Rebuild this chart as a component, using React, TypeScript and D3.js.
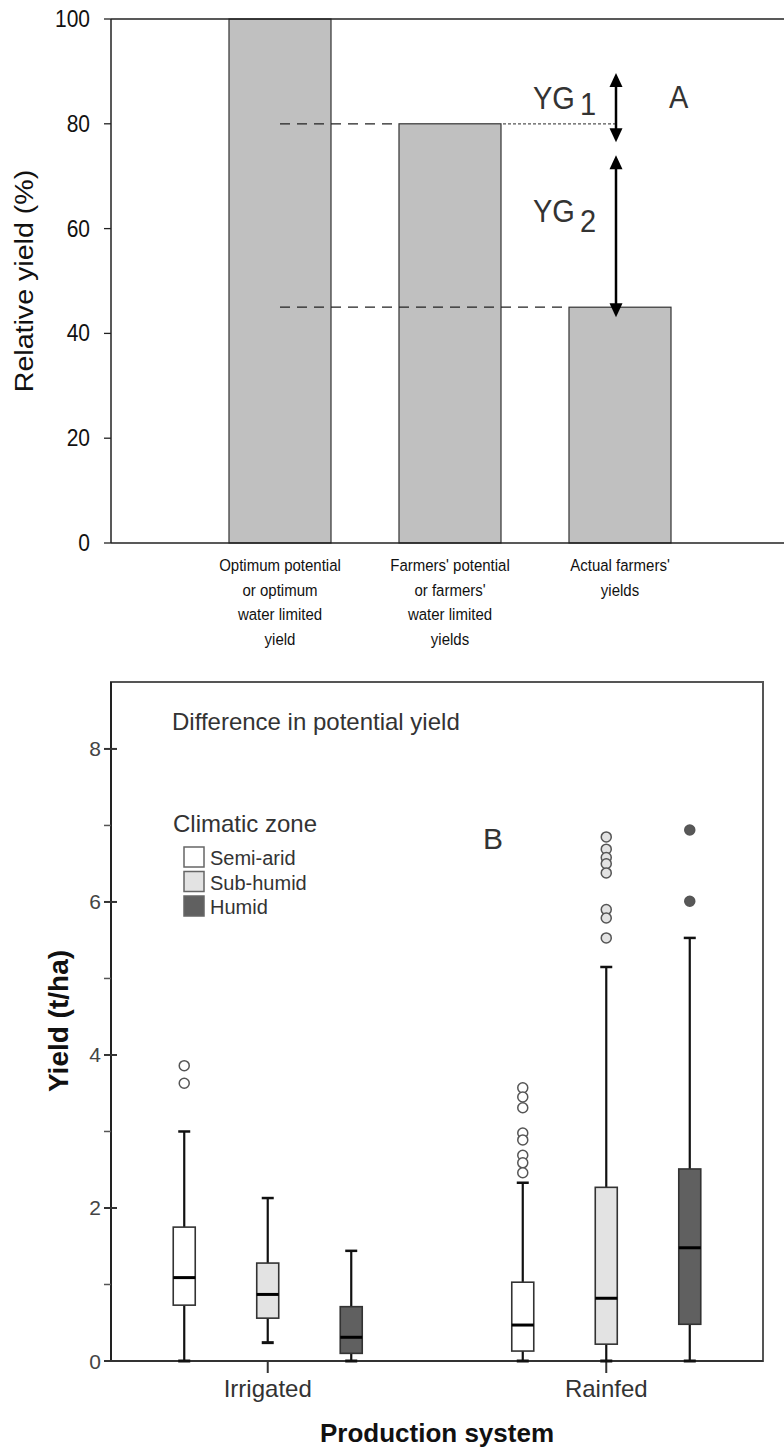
import React from "react";
import * as d3 from "d3";

// ---------- Panel A data ----------
const barCategories = ["optimum", "farmers", "actual"];
const barLabels = [
  ["Optimum potential", "or optimum", "water limited", "yield"],
  ["Farmers' potential", "or farmers'", "water limited", "yields"],
  ["Actual farmers'", "yields"],
];
const barValues = [100, 80, 45];
const yTicksA = [0, 20, 40, 60, 80, 100];
// gap arrows (from, to) in relative yield units
const yg1Arrow = [89.7, 76.5];
const yg2Arrow = [74, 43.1];

// ---------- Panel B data ----------
const groups = ["Irrigated", "Rainfed"];
const zones = ["Semi-arid", "Sub-humid", "Humid"];
const zoneFills = ["#ffffff", "#e3e3e3", "#606060"];
const outlierFills = ["#ffffff", "#e3e3e3", "#585858"];

const irrigatedLow = [0, 0.24, 0];
const irrigatedQ1 = [0.73, 0.56, 0.1];
const irrigatedMedian = [1.09, 0.87, 0.31];
const irrigatedQ3 = [1.75, 1.28, 0.71];
const irrigatedHigh = [3.0, 2.13, 1.44];
const irrigatedOutliers = [[3.86, 3.63], [], []];

const rainfedLow = [0, 0, 0];
const rainfedQ1 = [0.13, 0.22, 0.48];
const rainfedMedian = [0.47, 0.82, 1.48];
const rainfedQ3 = [1.03, 2.27, 2.51];
const rainfedHigh = [2.33, 5.15, 5.53];
const rainfedOutliers = [
  [3.57, 3.45, 3.31, 2.98, 2.89, 2.69, 2.59, 2.46],
  [6.85, 6.69, 6.58, 6.5, 6.38, 5.9, 5.79, 5.53],
  [6.94, 6.01],
];

const yTicksB = [0, 1, 2, 3, 4, 5, 6, 7, 8];

const FONT = "'Liberation Sans', Arial, Helvetica, sans-serif";

type TProps = {
  x: number;
  y: number;
  sy?: number;
  children?: React.ReactNode;
  [k: string]: any;
};
const T = ({ x, y, sy = 1, children, ...rest }: TProps) => (
  <text transform={`translate(${x},${y}) scale(1,${sy})`} {...rest}>
    {children}
  </text>
);

export default function App() {
  // ----- Panel A scales -----
  const xA = d3
    .scaleBand<string>()
    .domain(barCategories)
    .range([195, 705])
    .paddingInner(0.4)
    .paddingOuter(0.2);
  const yA = d3.scaleLinear().domain([0, 100]).range([543, 19]);
  const axLeftA = 111;
  const axRightA = 784;
  const bw = xA.bandwidth();
  const center = (c: string) => (xA(c) as number) + bw / 2;
  const arrowX = center("actual") - 4;
  const SY = 1.14;

  // ----- Panel B scales -----
  const yB = d3.scaleLinear().domain([0, 8.875]).range([1361, 682]);
  const xG = d3.scalePoint<string>().domain(groups).range([111, 763]).padding(0.463);
  const xZ = d3.scalePoint<string>().domain(zones).range([-83.5, 83.5]);
  const boxW = 22;
  const capW = 12;

  const groupStats = [
    { low: irrigatedLow, q1: irrigatedQ1, med: irrigatedMedian, q3: irrigatedQ3, high: irrigatedHigh, out: irrigatedOutliers },
    { low: rainfedLow, q1: rainfedQ1, med: rainfedMedian, q3: rainfedQ3, high: rainfedHigh, out: rainfedOutliers },
  ];

  const arrowHead = (x: number, y: number, dir: 1 | -1, key: string) => {
    // dir 1 = pointing down, -1 = pointing up; (x,y) is the tip
    const h = 14;
    const w = 6.5;
    return (
      <path
        key={key}
        d={`M${x},${y} L${x - w},${y - dir * h} L${x + w},${y - dir * h} Z`}
        fill="#000"
      />
    );
  };

  const doubleArrow = (from: number, to: number, key: string) => {
    const yTop = yA(from);
    const yBot = yA(to);
    return (
      <g key={key}>
        <line x1={arrowX} x2={arrowX} y1={yTop + 10} y2={yBot - 10} stroke="#000" strokeWidth={2.5} />
        {arrowHead(arrowX, yTop, -1, key + "t")}
        {arrowHead(arrowX, yBot, 1, key + "b")}
      </g>
    );
  };

  return (
    <svg
      width={784}
      height={1450}
      style={{ position: "absolute", left: 0, top: 0, background: "#fff" }}
      fontFamily={FONT}
    >
      {/* ================= Panel A ================= */}
      <g>
        {/* bars */}
        {barCategories.map((c, i) => (
          <rect
            key={c}
            x={xA(c)}
            y={yA(barValues[i])}
            width={bw}
            height={yA(0) - yA(barValues[i])}
            fill="#c0c0c0"
            stroke="#333"
            strokeWidth={1.2}
          />
        ))}
        {/* frame lines */}
        <line x1={axLeftA} x2={axRightA} y1={yA(100)} y2={yA(100)} stroke="#222" strokeWidth={1.5} />
        <line x1={axLeftA} x2={axRightA} y1={yA(0)} y2={yA(0)} stroke="#222" strokeWidth={1.5} />
        <line x1={axLeftA} x2={axLeftA} y1={yA(0)} y2={yA(100)} stroke="#222" strokeWidth={1.5} />
        {/* ticks */}
        {yTicksA.map((t) => (
          <g key={t}>
            <line x1={axLeftA - 7} x2={axLeftA} y1={yA(t)} y2={yA(t)} stroke="#222" strokeWidth={1.3} />
            <T x={90} y={yA(t) + 8} sy={SY} fontSize={21} textAnchor="end" fill="#111">
              {t}
            </T>
          </g>
        ))}
        {/* y label */}
        <text
          transform={`translate(33,281) rotate(-90) scale(1.1,1)`}
          fontSize={26}
          textAnchor="middle"
          fill="#111"
        >
          Relative yield (%)
        </text>
        {/* dashed reference lines */}
        <line
          x1={center("optimum")}
          x2={xA("farmers") as number}
          y1={yA(barValues[1])}
          y2={yA(barValues[1])}
          stroke="#222"
          strokeWidth={1.3}
          strokeDasharray="10,7"
        />
        <line
          x1={(xA("farmers") as number) + bw + 2}
          x2={arrowX}
          y1={yA(barValues[1])}
          y2={yA(barValues[1])}
          stroke="#555"
          strokeWidth={1.3}
          strokeDasharray="3,2"
        />
        <line
          x1={center("optimum")}
          x2={xA("actual") as number}
          y1={yA(barValues[2])}
          y2={yA(barValues[2])}
          stroke="#222"
          strokeWidth={1.3}
          strokeDasharray="10,7"
        />
        {/* arrows */}
        {doubleArrow(yg1Arrow[0], yg1Arrow[1], "yg1")}
        {doubleArrow(yg2Arrow[0], yg2Arrow[1], "yg2")}
        {/* YG labels */}
        <T x={533} y={109} sy={1.05} fontSize={29} fill="#333">
          YG
        </T>
        <T x={580} y={115} sy={1.05} fontSize={29} fill="#333">
          1
        </T>
        <T x={533} y={222} sy={1.05} fontSize={29} fill="#333">
          YG
        </T>
        <T x={580} y={232} sy={1.05} fontSize={29} fill="#333">
          2
        </T>
        <T x={669} y={108} sy={1.05} fontSize={29} fill="#333">
          A
        </T>
        {/* category labels */}
        {barCategories.map((c, i) =>
          barLabels[i].map((line, j) => (
            <T
              key={c + j}
              x={center(c)}
              y={571 + j * 24.7}
              sy={SY}
              fontSize={15}
              textAnchor="middle"
              fill="#111"
            >
              {line}
            </T>
          ))
        )}
      </g>

      {/* ================= Panel B ================= */}
      <g>
        {/* frame */}
        <rect
          x={111}
          y={yB(8.875)}
          width={763 - 111}
          height={yB(0) - yB(8.875)}
          fill="none"
          stroke="#555"
          strokeWidth={2}
        />
        <line x1={111} x2={111} y1={yB(0)} y2={yB(8.875)} stroke="#222" strokeWidth={2} />
        <line x1={111} x2={763} y1={yB(0)} y2={yB(0)} stroke="#333" strokeWidth={2} />
        {/* y ticks */}
        {yTicksB.map((t) => (
          <g key={t}>
            {t % 2 === 0 ? (
              <>
                <line x1={104} x2={117} y1={yB(t)} y2={yB(t)} stroke="#333" strokeWidth={2} />
                <text x={101} y={yB(t) + 7.5} fontSize={21} textAnchor="end" fill="#444">
                  {t}
                </text>
              </>
            ) : (
              <line x1={104} x2={111} y1={yB(t)} y2={yB(t)} stroke="#555" strokeWidth={1.5} />
            )}
          </g>
        ))}
        {/* x ticks and labels */}
        {groups.map((g) => (
          <g key={g}>
            <line x1={xG(g)} x2={xG(g)} y1={yB(0)} y2={yB(0) + 12} stroke="#333" strokeWidth={2} />
            <text x={xG(g)} y={1397} fontSize={24} textAnchor="middle" fill="#333">
              {g}
            </text>
          </g>
        ))}
        <text x={437} y={1442} fontSize={26} fontWeight="bold" textAnchor="middle" fill="#111">
          Production system
        </text>
        <text
          transform="translate(68,1021) rotate(-90)"
          fontSize={28}
          fontWeight="bold"
          textAnchor="middle"
          fill="#111"
        >
          Yield (t/ha)
        </text>

        {/* boxes */}
        {groups.map((g, gi) =>
          zones.map((z, zi) => {
            const s = groupStats[gi];
            const cx = (xG(g) as number) + (xZ(z) as number);
            const x0 = cx - boxW / 2;
            return (
              <g key={g + z}>
                {/* whiskers */}
                <line x1={cx} x2={cx} y1={yB(s.q3[zi])} y2={yB(s.high[zi])} stroke="#111" strokeWidth={2.2} />
                <line x1={cx} x2={cx} y1={yB(s.q1[zi])} y2={yB(s.low[zi])} stroke="#111" strokeWidth={2.2} />
                <line x1={cx - capW / 2} x2={cx + capW / 2} y1={yB(s.high[zi])} y2={yB(s.high[zi])} stroke="#111" strokeWidth={2.5} />
                <line x1={cx - capW / 2} x2={cx + capW / 2} y1={yB(s.low[zi])} y2={yB(s.low[zi])} stroke="#111" strokeWidth={3} />
                {/* box */}
                <rect
                  x={x0}
                  y={yB(s.q3[zi])}
                  width={boxW}
                  height={yB(s.q1[zi]) - yB(s.q3[zi])}
                  fill={zoneFills[zi]}
                  stroke="#333"
                  strokeWidth={1.6}
                />
                <line x1={x0} x2={x0 + boxW} y1={yB(s.med[zi])} y2={yB(s.med[zi])} stroke="#000" strokeWidth={3} />
                {/* outliers */}
                {s.out[zi].map((v, k) => (
                  <circle key={k} cx={cx} cy={yB(v)} r={5} fill={outlierFills[zi]} stroke="#555" strokeWidth={1.5} />
                ))}
              </g>
            );
          })
        )}

        {/* annotations */}
        <text x={172} y={730} fontSize={24} fill="#333">
          Difference in potential yield
        </text>
        <text x={483} y={849} fontSize={30} fill="#333">
          B
        </text>
        <text x={173} y={832} fontSize={24} fill="#333">
          Climatic zone
        </text>
        {zones.map((z, i) => (
          <g key={z}>
            <rect x={184} y={847 + i * 24.5} width={20} height={20} fill={zoneFills[i]} stroke="#666" strokeWidth={1.5} />
            <text x={210} y={865 + i * 24.5} fontSize={20} fill="#333">
              {z}
            </text>
          </g>
        ))}
      </g>
    </svg>
  );
}
